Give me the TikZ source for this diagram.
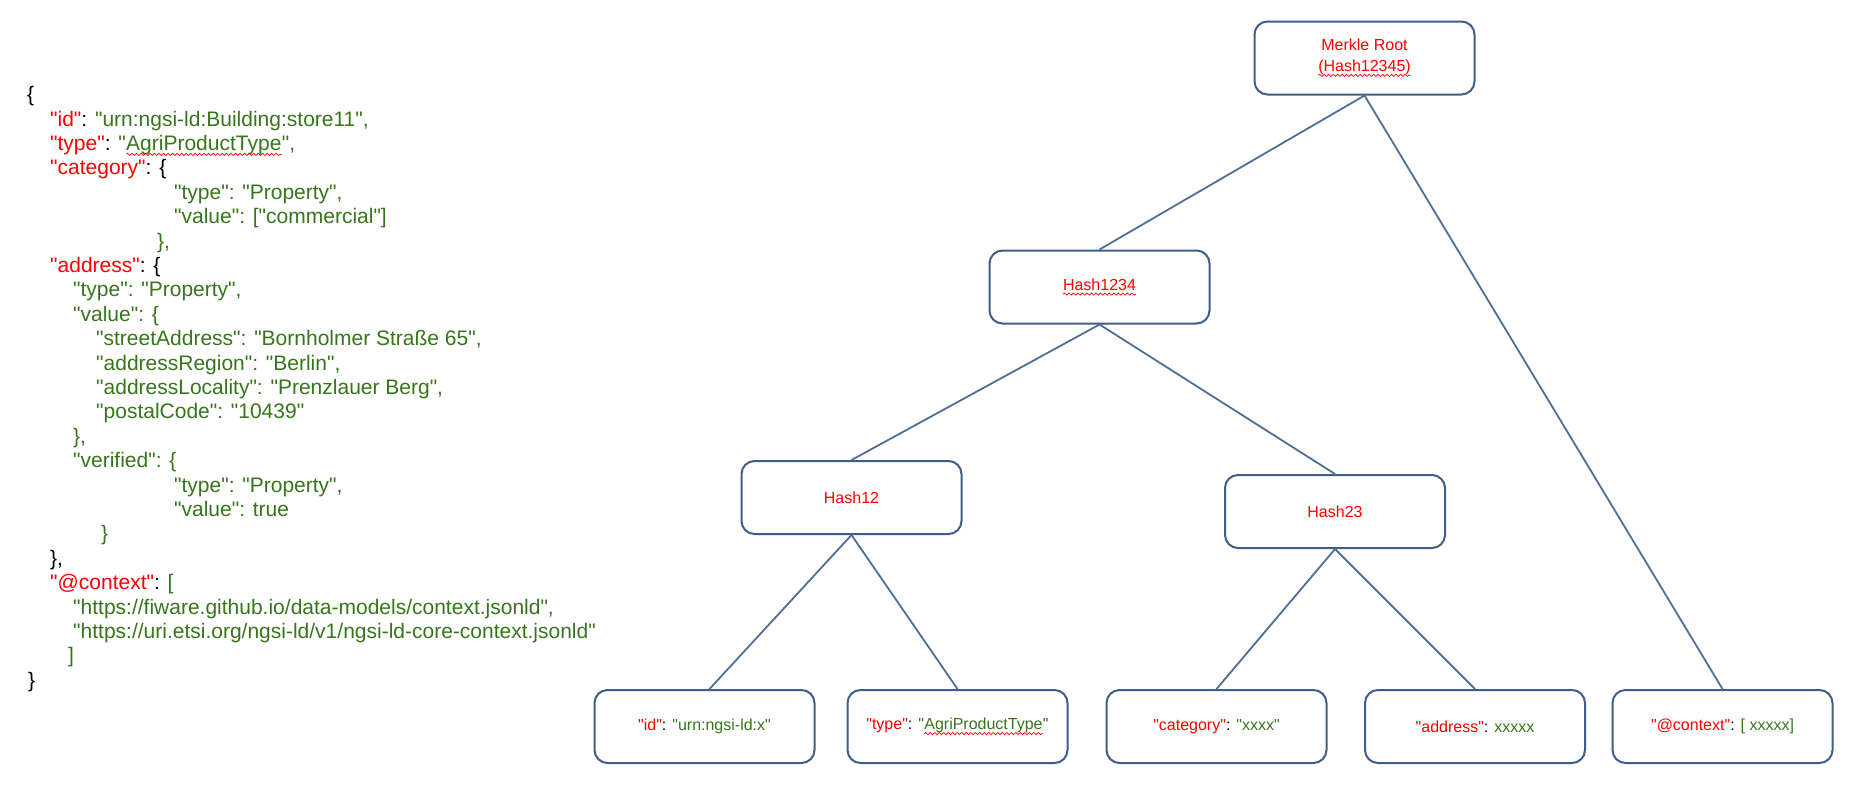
\documentclass[tikz,border=0pt]{standalone}
\usepackage{fontspec}
\setmainfont{Liberation Sans}[Ligatures=TeXOff]
\usetikzlibrary{decorations.pathmorphing}
\definecolor{keyred}{HTML}{FF0000}
\definecolor{valgreen}{HTML}{38761D}
\definecolor{boxline}{HTML}{3E5E88}
\definecolor{edgeline}{HTML}{4F6F96}
\newcommand\jkey[1]{\textcolor{keyred}{#1}}
\newcommand\jval[1]{\textcolor{valgreen}{#1}}

\tikzset{
  json/.style={anchor=base west, inner sep=0pt, font=\fontsize{21}{24}\selectfont},
  hashbox/.style={draw=boxline, line width=2pt, rounded corners=13pt,
    minimum width=220pt, minimum height=73pt, inner sep=0pt, align=center,
    font=\fontsize{16}{20.5}\selectfont, text=keyred},
  leafbox/.style={hashbox, text=black},
  link/.style={draw=edgeline, line width=1.8pt},
  wavy/.style={draw=red, line width=0.7pt, rounded corners=0pt, decorate,
    decoration={snake, amplitude=1.1pt, segment length=4.5pt}},
  plainword/.style={draw=none, fill=none, inner sep=0pt, outer sep=0pt,
    minimum width=0pt, minimum height=0pt, anchor=base west, rounded corners=0pt},
}
% red wavy spell-check underline under a word
\newcommand\spellwave[1]{\tikz[baseline=(sw.base)]{\node[plainword] (sw) {#1};
  \draw[wavy] ([yshift=-4pt]sw.base west) -- ([yshift=-4pt]sw.base east);}}

\begin{document}
\begin{tikzpicture}[x=1pt, y=-1pt]
\fill[white] (0,0) rectangle (1852,788);

% ---- JSON-LD entity ----
\node[json] (j0)  at (27,101.6)   {\{};
\node[json] (j1)  at (50,126.0)   {\jkey{"id"}: \jval{"urn:ngsi-ld:Building:store11",}};
\node[json] (j2)  at (50,150.4)   {\jkey{"type"}: \jval{"}\spellwave{\jval{AgriProductType}}\jval{",}};
\node[json] (j3)  at (50,174.8)   {\jkey{"category"}: \{};
\node[json] (j4)  at (174,199.2)  {\jval{"type": "Property",}};
\node[json] (j5)  at (174,223.6)  {\jval{"value": ["commercial"]}};
\node[json] (j6)  at (157,248.0)  {\jval{\},}};
\node[json] (j7)  at (50,272.4)   {\jkey{"address"}: \{};
\node[json] (j8)  at (73,296.8)   {\jval{"type": "Property",}};
\node[json] (j9)  at (73,321.2)   {\jval{"value": \{}};
\node[json] (j10) at (96,345.6)   {\jval{"streetAddress": "Bornholmer Straße 65",}};
\node[json] (j11) at (96,370.0)   {\jval{"addressRegion": "Berlin",}};
\node[json] (j12) at (96,394.4)   {\jval{"addressLocality": "Prenzlauer Berg",}};
\node[json] (j13) at (96,418.8)   {\jval{"postalCode": "10439"}};
\node[json] (j14) at (73,443.2)   {\jval{\},}};
\node[json] (j15) at (73,467.6)   {\jval{"verified": \{}};
\node[json] (j16) at (174,492.0)  {\jval{"type": "Property",}};
\node[json] (j17) at (174,516.4)  {\jval{"value": true}};
\node[json] (j18) at (101,540.8)  {\jval{\}}};
\node[json] (j19) at (50,565.2)   {\},};
\node[json] (j20) at (50,589.6)   {\jkey{"@context"}: \jval{[}};
\node[json] (j21) at (73,614.0)   {\jval{"https://fiware.github.io/data-models/context.jsonld",}};
\node[json] (j22) at (73,638.4)   {\jval{"https://uri.etsi.org/ngsi-ld/v1/ngsi-ld-core-context.jsonld"}};
\node[json] (j23) at (68,662.8)   {\jval{]}};
\node[json] (j24) at (28,687.2)   {\}};

% ---- Merkle tree ----
\node[hashbox] (root)  at (1364.5,58)  {Merkle Root\\\spellwave{\textcolor{keyred}{(Hash12345)}}};
\node[hashbox] (h1234) at (1099.5,287) {\spellwave{\textcolor{keyred}{Hash1234}}};
\node[hashbox] (h12)   at (851.5,497.5) {Hash12};
\node[hashbox] (h23)   at (1335,511.5) {Hash23};

\node[leafbox] (lid)   at (704.5,726.5)  {\jkey{"id"}: \jval{"urn:ngsi-ld:x"}};
\node[leafbox] (ltype) at (957.5,726.5)  {\jkey{"type"}: \jval{"}\spellwave{\jval{AgriProductType}}\jval{"}};
\node[leafbox] (lcat)  at (1216.5,726.5) {\jkey{"category"}: \jval{"xxxx"}};
\node[leafbox] (laddr) at (1475,726.5)   {\jkey{"address"}: \jval{xxxxx}};
\node[leafbox] (lctx)  at (1722.5,726.5) {\jkey{"@context"}: \jval{[ xxxxx]}};

\draw[link] (root.south) -- (h1234.north);
\draw[link] (root.south) -- (lctx.north);
\draw[link] (h1234.south) -- (h12.north);
\draw[link] (h1234.south) -- (h23.north);
\draw[link] (h12.south) -- ([xshift=5pt]lid.north);
\draw[link] (h12.south) -- (ltype.north);
\draw[link] (h23.south) -- (lcat.north);
\draw[link] (h23.south) -- (laddr.north);
\end{tikzpicture}
\end{document}
